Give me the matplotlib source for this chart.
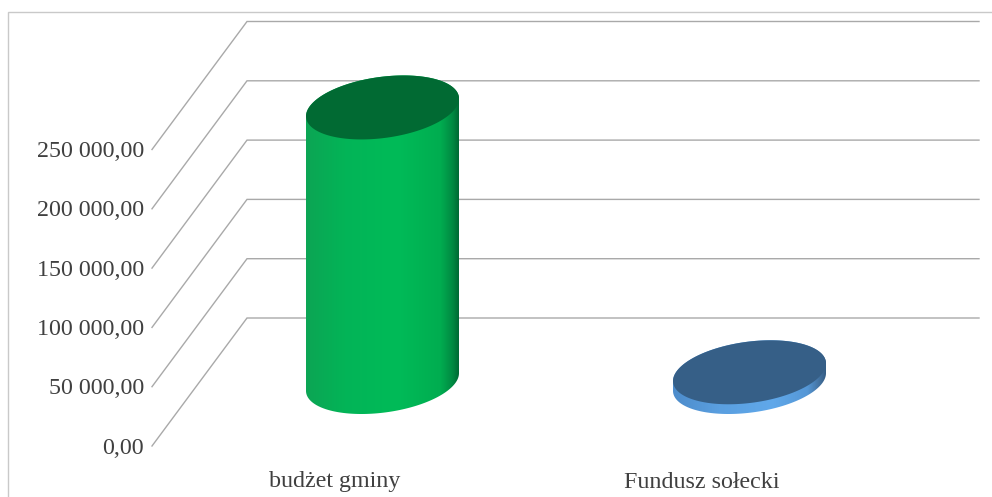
import numpy as np
import matplotlib as mpl
import matplotlib.pyplot as plt
from matplotlib.colors import LinearSegmentedColormap
from matplotlib.patches import Polygon, Rectangle

mpl.use('Agg')
plt.rcParams['font.family'] = ['Liberation Serif', 'DejaVu Serif']

kategorie = ["budżet gminy", "Fundusz sołecki"]
wartosci = [231500, 8200]
os_y = [0, 50000, 100000, 150000, 200000, 250000]
etykiety_y = ["0,00", "50 000,00", "100 000,00", "150 000,00", "200 000,00", "250 000,00"]

SZER, WYS = 992, 497
PX_X = 1 / 367.0       # jedna kategoria = 367 px
PX_Y = 50000 / 59.3    # 50 000 = 59.3 px
X0, Y0 = 382.5, 382    # srodek pierwszego walca na podlodze, w pikselach
GL_X, GL_Y = 47.5 * PX_X, 64 * PX_Y   # pol glebokosci wykresu
SCIANA_L = GL_X * 2    # szerokosc bocznej sciany
PRAWY = (979 - X0) * PX_X
LEWY = (247 - X0) * PX_X

# elipsa walca
RX, RY, POCHYL = 76.5 * PX_X, 32 * PX_Y, 8.8 * PX_Y


def elipsa(x, y, t):
    return np.column_stack([
        x + RX * np.cos(t),
        y + POCHYL * np.cos(t) + np.sqrt(RY**2 - POCHYL**2) * np.sin(t),
    ])


def walec(ax, x, wartosc, cmapa, kolor_gory, z):
    dol = elipsa(x, 0, np.linspace(0, -np.pi, 100))
    gora = elipsa(x, wartosc, np.linspace(np.pi, 0, 100))
    bok = Polygon(np.vstack([dol, gora]), closed=True, fc='none', ec='none', zorder=z)
    ax.add_patch(bok)
    grad = np.linspace(0, 1, 256).reshape(1, -1)
    im = ax.imshow(grad, cmap=cmapa, aspect='auto', zorder=z, interpolation='bilinear',
                   extent=[x - RX, x + RX, -RY - POCHYL, wartosc + RY + POCHYL])
    im.set_clip_path(bok)
    ax.add_patch(Polygon(elipsa(x, wartosc, np.linspace(0, 2 * np.pi, 200)), closed=True,
                         fc=kolor_gory, ec='none', zorder=z + 1))


fig = plt.figure(figsize=(SZER / 100, WYS / 100), dpi=100)
ax = fig.add_axes([0, 0, 1, 1])
ax.axis('off')
# ramka wykresu: widac tylko lewa i gorna krawedz
fig.add_artist(Rectangle((8 / SZER, -0.2), 1.2, 1.2 - 12 / WYS, transform=fig.transFigure,
                         fc='none', ec='#c9c9c9', lw=1))

# siatka: podloga i sciana
for v, et in zip(os_y, etykiety_y):
    ax.plot([-SCIANA_L + LEWY, LEWY, PRAWY], [v - GL_Y, v + GL_Y, v + GL_Y],
            color='#a9a9a9', lw=1.0, zorder=1, solid_joinstyle='miter')
    ax.text(-SCIANA_L + LEWY - 8 * PX_X, v - GL_Y - 2 * PX_Y, et, ha='right', va='center',
            fontsize=17.3, color='#404040')

zielony = LinearSegmentedColormap.from_list('z', [(0, '#0ca554'), (0.25, '#03b457'), (0.6, '#00bb58'),
                                                  (0.88, '#00ad50'), (0.96, '#008a42'), (1, '#006a35')])
niebieski = LinearSegmentedColormap.from_list('n', [(0, '#4d8ccb'), (0.3, '#5a9fe0'), (0.65, '#60a8ea'),
                                                    (0.88, '#5597d6'), (0.96, '#43719f'), (1, '#355e85')])
cmapy = [zielony, niebieski]
gory = ['#016a33', '#365f87']

for i, w in enumerate(wartosci):
    walec(ax, i, w, cmapy[i], gory[i], 3 + i)
    ax.text(i - GL_X, -GL_Y - 36 * PX_Y, kategorie[i], ha='center', va='center',
            fontsize=17.3, color='#404040')

ax.set_xlim(-X0 * PX_X, (SZER - X0) * PX_X)
ax.set_ylim(-(WYS - Y0) * PX_Y, Y0 * PX_Y)
plt.savefig('out.png', dpi=100)
